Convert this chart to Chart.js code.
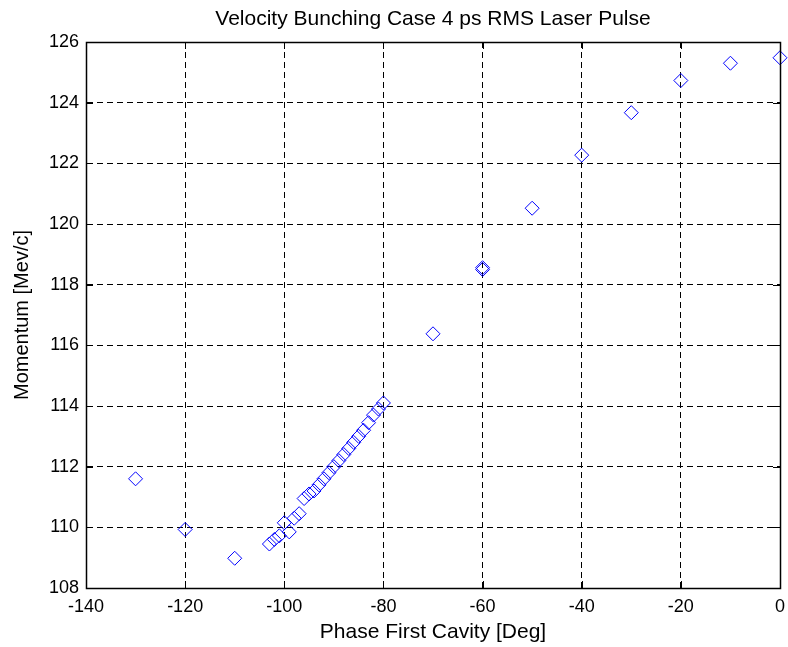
<!DOCTYPE html>
<html>
<head>
<meta charset="utf-8">
<script src="https://cdn.jsdelivr.net/npm/chart.js@4.4.1/dist/chart.umd.min.js"></script>
<style>
  body { margin: 0; background: #fff; }
  #wrap { width: 788px; height: 647px; }
</style>
</head>
<body>
<div id="wrap"><canvas id="chart"></canvas></div>
<script>
// phase of first cavity [deg] and resulting momentum [MeV/c]
const phaseDeg = [-130, -120, -110,
  -103, -102, -101, -100, -99, -98, -97, -96, -95, -94, -93, -92,
  -91, -90, -89, -88, -87, -86, -85, -84, -83, -82, -81, -80,
  -70, -60, -60, -50, -40, -30, -20, -10, 0];
const momentum = [111.6, 109.93, 108.98,
  109.45, 109.6, 109.72, 110.15, 109.85, 110.3, 110.45, 110.95, 111.1, 111.2, 111.4, 111.6,
  111.8, 112.0, 112.2, 112.4, 112.6, 112.8, 113.0, 113.2, 113.45, 113.7, 113.9, 114.1,
  116.38, 118.5, 118.56, 120.52, 122.27, 123.67, 124.73, 125.3, 125.48];

const xTicks = [-140, -120, -100, -80, -60, -40, -20, 0];
const yTicks = [108, 110, 112, 114, 116, 118, 120, 122, 124, 126];

const chartTitle = 'Velocity Bunching Case 4 ps RMS Laser Pulse';

const points = phaseDeg.map((x, i) => ({ x: x, y: momentum[i] }));

const fontFam = '"Liberation Sans", Arial, sans-serif';

// matlab style box: solid frame + inward tick marks, title centred on the axes
const boxPlugin = {
  id: 'box',
  afterDraw(chart) {
    const ctx = chart.ctx;
    const a = chart.chartArea;
    const xs = chart.scales.x, ys = chart.scales.y;
    const len = 7;
    ctx.save();
    ctx.setLineDash([]);
    ctx.strokeStyle = '#000';
    ctx.lineWidth = 1;
    ctx.beginPath();
    xTicks.forEach(v => {
      const px = Math.round(xs.getPixelForValue(v)) + 0.5;
      ctx.moveTo(px, a.bottom); ctx.lineTo(px, a.bottom - len);
      ctx.moveTo(px, a.top); ctx.lineTo(px, a.top + len);
    });
    yTicks.forEach(v => {
      const py = Math.round(ys.getPixelForValue(v)) + 0.5;
      ctx.moveTo(a.left, py); ctx.lineTo(a.left + len, py);
      ctx.moveTo(a.right, py); ctx.lineTo(a.right - len, py);
    });
    ctx.stroke();
    ctx.lineWidth = 1.5;
    ctx.strokeRect(Math.round(a.left) + 0.5, Math.round(a.top) + 0.5,
      Math.round(a.right - a.left), Math.round(a.bottom - a.top));

    ctx.fillStyle = '#000';
    ctx.font = '21px ' + fontFam;
    ctx.textAlign = 'center';
    ctx.textBaseline = 'alphabetic';
    ctx.fillText(chartTitle, (a.left + a.right) / 2, 25);
    ctx.restore();
  }
};

new Chart(document.getElementById('chart'), {
  type: 'scatter',
  data: {
    datasets: [{
      data: points,
      pointStyle: 'rectRot',
      pointRadius: 7,
      pointHoverRadius: 7,
      pointBorderColor: '#0000ff',
      pointBackgroundColor: 'rgba(0,0,0,0)',
      pointBorderWidth: 1,
      showLine: false,
      clip: false
    }]
  },
  options: {
    responsive: true,
    maintainAspectRatio: false,
    animation: false,
    events: [],
    layout: { padding: { left: 0, right: 0, top: 42, bottom: 0 } },
    plugins: {
      legend: { display: false },
      tooltip: { enabled: false },
      title: { display: false }
    },
    scales: {
      x: {
        type: 'linear',
        min: -140, max: 0,
        afterBuildTicks(scale) { scale.ticks = xTicks.map(v => ({ value: v })); },
        afterFit(scale) {
          scale.height = 59;
          scale.paddingLeft = 0;
          scale.paddingRight = 8;
        },
        ticks: {
          color: '#000',
          font: { family: fontFam, size: 18 },
          padding: 8,
          maxRotation: 0,
          autoSkip: false
        },
        grid: { color: '#000', lineWidth: 1, drawTicks: false },
        border: { display: true, color: '#000', dash: [6, 4] },
        title: {
          display: true,
          text: 'Phase First Cavity [Deg]',
          color: '#000',
          font: { family: fontFam, size: 21 },
          padding: { top: 0, bottom: 2 }
        }
      },
      y: {
        type: 'linear',
        min: 108, max: 126,
        afterBuildTicks(scale) { scale.ticks = yTicks.map(v => ({ value: v })); },
        afterFit(scale) { scale.width = 86; },
        ticks: {
          color: '#000',
          font: { family: fontFam, size: 18 },
          padding: 7,
          autoSkip: false
        },
        grid: { color: '#000', lineWidth: 1, drawTicks: false },
        border: { display: true, color: '#000', dash: [6, 4] },
        title: {
          display: true,
          text: 'Momentum [Mev/c]',
          color: '#000',
          font: { family: fontFam, size: 20 },
          padding: { top: 10, bottom: 0 }
        }
      }
    }
  },
  plugins: [boxPlugin]
});
</script>
</body>
</html>
